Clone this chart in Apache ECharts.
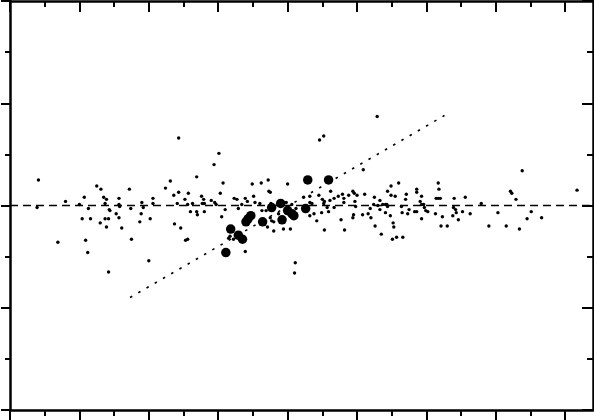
<!DOCTYPE html>
<html>
<head>
<meta charset="utf-8">
<script src="https://cdn.jsdelivr.net/npm/echarts@6/dist/echarts.min.js"></script>
<style>
html,body{margin:0;padding:0;background:#fff;}
#chart{width:594px;height:420px;}
</style>
</head>
<body>
<div id="chart"></div>
<script>
// Axis ranges and tick positions
const xRange = [0, 8.4];
const yRange = [-2, 2];
const xMajorTicks = [0, 1, 2, 3, 4, 5, 6, 7, 8];
const xMinorTicks = [0.5, 1.5, 2.5, 3.5, 4.5, 5.5, 6.5, 7.5];
const yMajorTicks = [-2, -1, 0, 1, 2];
const yMinorTicks = [-1.5, -0.5, 0.5, 1.5];

// Small points
const smallPoints = [
[0.41,0.25],[0.39,-0.02],[0.80,0.04],[0.69,-0.36],[1.00,0.01],[1.07,0.08],[1.04,-0.13],[1.13,-0.03],
[1.16,-0.13],[1.09,-0.34],[1.12,-0.46],[1.25,0.19],[1.31,0.16],[1.35,0.08],[1.39,0.06],[1.37,0.02],
[1.43,-0.04],[1.44,-0.05],[1.37,-0.13],[1.42,-0.13],[1.30,-0.17],[1.39,-0.21],[1.53,-0.08],[1.57,0.07],
[1.57,0.01],[1.58,-0.01],[1.57,-0.12],[1.61,-0.22],[1.72,0.16],[1.74,-0.03],[1.75,-0.33],[1.42,-0.65],
[1.90,0.03],[1.92,-0.02],[1.89,-0.08],[1.87,-0.16],[2.02,-0.13],[2.06,0.07],[2.06,0.02],[2.00,-0.54],
[2.94,0.40],[3.01,0.51],[2.43,0.66],[2.69,0.28],[2.31,0.24],[2.24,0.17],[3.07,0.22],[2.43,0.13],
[2.57,0.12],[2.36,0.10],[2.52,0.06],[2.76,0.09],[2.79,0.06],[2.77,0.02],[2.80,0.02],[2.41,0.02],
[2.63,0.02],[2.56,0.01],[2.90,0.05],[2.95,0.03],[2.97,0.01],[3.03,0.12],[3.10,-0.04],[2.60,-0.06],
[2.69,-0.06],[2.70,-0.09],[2.80,-0.06],[3.05,-0.11],[2.37,-0.18],[2.46,-0.22],[2.53,-0.34],[2.56,-0.33],
[3.49,0.21],[3.62,0.22],[3.72,0.25],[3.73,0.14],[3.75,0.13],[3.51,0.09],[3.23,0.07],[3.27,0.06],
[3.39,0.07],[3.42,0.04],[3.34,0.01],[3.29,-0.03],[3.53,0.03],[3.60,0.02],[3.63,-0.05],[3.69,-0.05],
[3.76,0.02],[4.00,0.21],[3.98,0.03],[4.06,0.01],[4.12,-0.03],[3.75,-0.12],[3.77,-0.15],[3.80,-0.16],
[3.71,-0.21],[3.80,-0.25],[3.94,-0.23],[4.04,-0.23],[3.87,-0.08],[3.15,-0.32],[3.17,-0.30],[3.22,-0.33],
[3.39,-0.45],[4.11,-0.56],[4.10,-0.66],
[4.23,0.08],[4.32,0.09],[4.45,0.10],[4.62,0.14],[4.50,0.06],[4.53,0.04],[4.52,0.02],[4.32,0.03],
[4.35,0.02],[4.67,0.07],[4.73,0.09],[4.79,0.11],[4.81,0.07],[4.81,0.03],[4.61,0.05],[4.57,-0.02],
[4.59,-0.06],[4.67,-0.02],[4.38,-0.08],[4.32,-0.10],[4.49,-0.07],[4.42,-0.15],[4.53,-0.24],[4.77,-0.14],
[4.82,-0.24],[4.88,0.10],[4.94,0.14],[4.96,0.12],[5.00,0.10],[4.97,0.04],[4.98,-0.01],[4.95,-0.09],
[4.94,-0.12],[5.08,-0.09],[5.11,0.11],[5.16,-0.08],[5.20,-0.12],[5.25,0.08],[5.24,0.01],[5.19,-0.03],
[5.30,0.00],[5.33,0.05],[5.33,-0.04],[5.26,-0.20],[5.35,-0.28],[5.37,0.01],[5.41,0.01],[5.43,0.01],
[5.44,-0.01],[5.41,-0.07],[5.44,0.14],[5.49,0.19],[5.49,0.10],[5.55,0.09],[5.60,0.22],[5.48,-0.10],
[5.52,-0.17],[5.53,-0.21],[5.51,-0.33],[5.57,-0.31],[5.66,-0.31],[5.64,-0.01],[5.65,-0.07],[5.71,0.11],
[5.70,0.06],[5.73,-0.08],[5.75,-0.04],[5.83,-0.06],[5.86,-0.06],[5.86,0.16],[5.86,0.13],[5.93,0.09],
[5.91,0.04],[5.93,0.01],[5.96,0.01],[5.97,-0.02],[5.99,-0.05],[6.02,-0.06],[5.93,-0.13],[6.17,0.22],
[6.18,0.16],[6.14,0.07],[6.17,0.07],[6.20,0.07],[6.13,-0.08],[6.23,-0.11],[6.21,-0.20],[6.30,-0.20],
[5.09,0.35],[5.29,0.87],[4.46,0.64],[4.52,0.68],
[7.38,0.34],[8.17,0.15],[7.21,0.14],[7.23,0.12],[7.29,0.06],[6.40,0.07],[6.56,0.08],[6.79,0.02],
[6.39,-0.02],[6.42,-0.04],[6.43,-0.07],[6.52,-0.06],[6.63,-0.08],[6.38,-0.10],[6.46,-0.14],[6.90,-0.20],
[7.03,-0.07],[7.15,-0.20],[7.34,-0.23],[7.45,-0.13],[7.51,-0.06],[7.66,-0.12]
];

// Large points
const largePoints = [
[4.29,0.25],[4.59,0.25],[4.26,-0.03],[3.18,-0.23],[3.11,-0.46],[3.29,-0.29],[3.35,-0.33],
[3.40,-0.16],[3.43,-0.13],[3.47,-0.10],[3.64,-0.16],[3.77,-0.02],[3.90,0.02],[3.92,-0.14],
[4.00,-0.05],[4.06,-0.08],[4.09,-0.10]
];

// Fitted (dotted) line and zero (dashed) reference line
const fitLine = [[1.73,-0.90],[6.26,0.88]];
const zeroLine = [[0,0],[8.4,0]];

const chart = echarts.init(document.getElementById('chart'));
const ink = '#000000';
const gridRect = {left:10, right:1, top:1, bottom:10};

function xAx(grid, pos, ticks, len, inside, showLine) {
  return {
    type:'value', gridIndex:grid, position:pos, min:xRange[0], max:xRange[1],
    axisLine:{show:showLine, onZero:false, lineStyle:{color:ink, width:2.5}},
    axisTick:{show:true, inside:inside, length:len, customValues:ticks, lineStyle:{color:ink, width:2}},
    axisLabel:{show:false}, splitLine:{show:false}
  };
}
function yAx(grid, pos, ticks, len, inside, showLine) {
  return {
    type:'value', gridIndex:grid, position:pos, min:yRange[0], max:yRange[1],
    axisLine:{show:showLine, onZero:false, lineStyle:{color:ink, width:2.5}},
    axisTick:{show:true, inside:inside, length:len, customValues:ticks, lineStyle:{color:ink, width:2}},
    axisLabel:{show:false}, splitLine:{show:false}
  };
}

chart.setOption({
  animation:false,
  backgroundColor:'#fff',
  grid:[Object.assign({}, gridRect), Object.assign({}, gridRect)],
  xAxis:[
    xAx(0,'bottom',xMajorTicks,10,false,true),
    xAx(0,'top',xMajorTicks,11,true,true),
    xAx(1,'bottom',xMinorTicks,6,false,false),
    xAx(1,'top',xMinorTicks,6,true,false)
  ],
  yAxis:[
    yAx(0,'left',yMajorTicks,9,false,true),
    yAx(0,'right',yMajorTicks,11,true,true),
    yAx(1,'left',yMinorTicks,5,false,false),
    yAx(1,'right',yMinorTicks,6,true,false)
  ],
  series:[
    {type:'line', xAxisIndex:0, yAxisIndex:0, data:zeroLine, symbol:'none', silent:true,
     lineStyle:{color:ink, width:1.5, type:[8,5]}},
    {type:'line', xAxisIndex:0, yAxisIndex:0, data:fitLine, symbol:'none', silent:true,
     lineStyle:{color:ink, width:1.6, type:[2.5,7]}},
    {type:'scatter', xAxisIndex:0, yAxisIndex:0, data:smallPoints, symbol:'circle', symbolSize:3.4,
     itemStyle:{color:ink, opacity:1}, silent:true},
    {type:'scatter', xAxisIndex:0, yAxisIndex:0, data:largePoints, symbol:'circle', symbolSize:9.5,
     itemStyle:{color:ink, opacity:1}, silent:true}
  ]
});
</script>
</body>
</html>
